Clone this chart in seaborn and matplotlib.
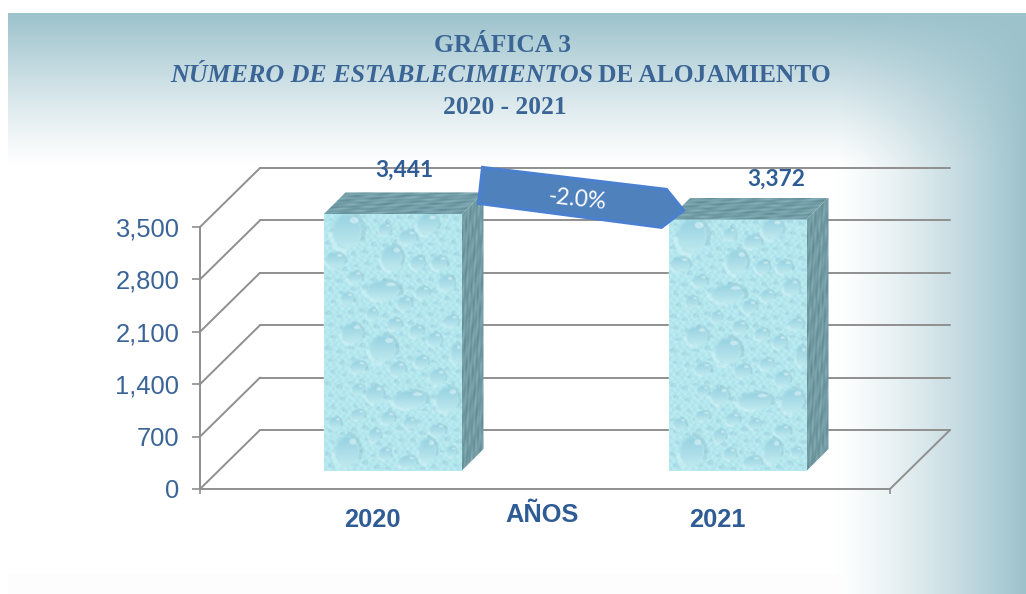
import numpy as np
import seaborn as sns
import matplotlib.pyplot as plt
from matplotlib.patches import Polygon
from matplotlib.colors import to_rgb

# datos de la grafica
anios = ["2020", "2021"]
establecimientos = [3441, 3372]
ticks_y = [0, 700, 1400, 2100, 2800, 3500]
etiqueta_x = "AÑOS"
variacion = "-2.0%"

W, H = 1026, 594
AZUL = "#2f5c94"
AZUL_EJE = "#3a6497"
GRIS = "#8f8f8f"
FONDO = np.array(to_rgb("#9cc2cc"))

# gotas de la textura: centro y radios en pixeles de la barra
GOTAS = [(23, 17, 17, 20), (104, 10, 12, 12), (61, 15, 7, 7), (84, 23, 10, 8), (11, 45, 11, 8),
         (68, 43, 12, 14), (116, 48, 9, 8), (94, 48, 8, 8), (31, 62, 8, 7), (59, 75, 19, 11),
         (123, 68, 9, 9), (99, 77, 8, 7), (23, 83, 7, 7), (81, 88, 8, 8), (48, 98, 6, 7),
         (71, 108, 8, 7), (128, 105, 8, 7), (28, 117, 12, 11), (93, 115, 8, 7), (59, 132, 15, 15),
         (111, 123, 8, 8), (133, 137, 6, 12), (34, 150, 9, 7), (98, 145, 8, 7), (74, 152, 9, 8),
         (114, 160, 9, 9), (51, 177, 10, 10), (86, 182, 19, 10), (124, 182, 13, 14), (34, 172, 7, 6),
         (34, 197, 8, 6), (64, 200, 8, 7), (86, 205, 7, 6), (11, 205, 7, 7), (114, 212, 9, 7),
         (23, 233, 14, 18), (51, 217, 7, 8), (61, 235, 7, 7), (104, 232, 10, 14), (84, 243, 10, 7),
         (128, 233, 6, 6)]


def textura_gotas():
    s = 3
    alto, ancho = 252 * s, 139 * s
    yy, xx = np.mgrid[0:alto, 0:ancho] / s
    img = np.ones((alto, ancho, 3)) * np.array(to_rgb("#b5e7ee"))
    img += (np.sin(xx * 0.9 + np.sin(yy * 0.5)) * np.sin(yy * 0.8) * 0.025)[..., None]
    chicas = []
    for i in range(12):
        for j in range(22):
            chicas.append((6 + i * 11.5 + 3 * np.sin(j * 2.1), 6 + j * 11.5 + 3 * np.sin(i * 1.7),
                           2.0 + np.abs(np.sin(i * 3 + j)) * 1.4, 2.0 + np.abs(np.sin(i + j * 5)) * 1.4))
    for cx, cy, rx, ry in chicas + GOTAS:
        d = np.sqrt(((xx - cx) / rx) ** 2 + ((yy - cy) / ry) ** 2)
        t = np.clip((yy - cy) / ry * 0.5 + 0.5, 0, 1)[..., None]
        color = (1 - t) * np.array(to_rgb("#92cfdf")) + t * np.array(to_rgb("#c4ecf1"))
        m = np.clip((1 - d) / 0.3, 0, 1)[..., None]
        img = img * (1 - m) + color * m
        # borde suave arriba a la derecha y luz pequena
        b = (np.abs(d - 1) < 0.12) & (xx > cx) & (yy < cy + ry * 0.4)
        img[b] = img[b] * 0.7 + np.array(to_rgb("#7fb3c2")) * 0.3
        b = (np.abs(d - 1) < 0.14) & (xx < cx) & (yy > cy)
        img[b] = img[b] * 0.6 + np.array([0.86, 0.97, 0.98]) * 0.4
        l = ((xx - cx - 0.42 * rx) / (0.26 * rx)) ** 2 + ((yy - cy + 0.55 * ry) / (0.16 * ry)) ** 2 < 1
        img[l] = img[l] * 0.6 + np.array([1, 1, 1]) * 0.4
    return np.clip(img, 0, 1)


def textura_lado(alto, ancho, horizontal):
    yy, xx = np.mgrid[0:alto, 0:ancho].astype(float)
    if horizontal:
        xx, yy = yy, xx
    v = np.sin(xx * 1.1 + 2 * np.sin(yy * 0.09)) + np.sin(xx * 1.9 + yy * 0.13) + np.sin(yy * 0.27 + xx * 0.6)
    base = np.array(to_rgb("#729ba4"))
    return np.clip(base + (v * 0.022)[..., None], 0, 1)


def rect_px(izq, der, y_abajo, y_arriba):
    return [izq / W, 1 - y_abajo / H, (der - izq) / W, (y_abajo - y_arriba) / H]


sns.set_theme(style="white")
fig = plt.figure(figsize=(W / 100, H / 100), dpi=100, facecolor="white")

# fondo con degradado
ax_fondo = fig.add_axes([0, 0, 1, 1], zorder=0)
yy, xx = np.mgrid[0:H, 0:W].astype(float)
arriba = np.clip((165 - yy) / 152, 0, 1) ** 1.15
derecha = np.clip((xx - 835) / 191, 0, 1) ** 1.25
t = 1 - (1 - arriba) * (1 - derecha)
t = np.maximum(t, np.where(yy > 572, 0.02, 0))
fondo = 1 - t[..., None] * (1 - FONDO)
fondo[(xx < 8) | (yy < 13)] = 1
ax_fondo.imshow(fondo, extent=(0, W, 0, H), aspect="auto", origin="upper")
ax_fondo.set_xlim(0, W)
ax_fondo.set_ylim(0, H)
ax_fondo.axis("off")

# plano frontal: ejes y escalas
ax = fig.add_axes(rect_px(200, 890, 489, 227), zorder=1)
ax.patch.set_visible(False)
sns.barplot(x=anios, y=[0, 0], ax=ax)
ax.set_xlim(-0.5, 1.5)
ax.set_ylim(0, 3500)
ax.set_yticks(ticks_y)
ax.set_yticklabels([f"{v:,}" for v in ticks_y], fontfamily="Liberation Sans", fontsize=18.4, color=AZUL_EJE)
ax.tick_params(axis="y", left=True, length=6, width=1.2, color=GRIS, pad=9)
ax.tick_params(axis="x", bottom=False, pad=8)
ax.set_xticks([-0.5, 1.5], minor=True)
ax.tick_params(axis="x", which="minor", bottom=True, length=3.5, width=1.2, color=GRIS)
for etq in ax.get_xticklabels():
    etq.set(fontfamily="Liberation Sans", fontweight="bold", fontsize=18.3, color=AZUL)
ax.set_xlabel(etiqueta_x, fontfamily="Liberation Sans", fontweight="bold", fontsize=18.3, color=AZUL)
ax.xaxis.set_label_coords(0.495, -0.055)
ax.set_ylabel("")
sns.despine(ax=ax)
ax.spines["left"].set(color=GRIS, linewidth=1.4)
ax.spines["bottom"].set(color=GRIS, linewidth=1.4)

# paredes del fondo y piso, a partir de la escala
prof_x, prof_y = 60, 59
x_ini = ax.transData.transform((-0.5, 0))[0]
x_fin = ax.transData.transform((1.5, 0))[0]
for v in ticks_y:
    py = ax.transData.transform((0, v))[1]
    ax_fondo.plot([x_ini, x_ini + prof_x], [py, py + prof_y], color=GRIS, lw=1.4, solid_capstyle="round")
    ax_fondo.plot([x_ini + prof_x, x_fin + prof_x], [py + prof_y, py + prof_y], color=GRIS, lw=1.4)
py0 = ax.transData.transform((0, 0))[1]
ax_fondo.plot([x_fin, x_fin + prof_x], [py0, py0 + prof_y], color=GRIS, lw=1.4)

# barras, algo adentro del plano frontal
ax_barras = fig.add_axes(rect_px(220, 910, 471, 210), zorder=2)
ax_barras.patch.set_visible(False)
sns.barplot(x=anios, y=establecimientos, color="#b3e6ee", saturation=1, width=0.4, ax=ax_barras)
ax_barras.set_xlim(-0.5, 1.5)
ax_barras.set_ylim(0, 3500)
ax_barras.axis("off")
fig.canvas.draw()

desplaza = [(12, 44), (39, 40)]
for barra, v, off in zip(ax_barras.patches, establecimientos, desplaza):
    ax_barras.annotate(f"{v:,}", (barra.get_x() + barra.get_width() / 2, v), xytext=(off[0] * 0.72, off[1] * 0.72),
                       textcoords="offset points", ha="center", va="center", annotation_clip=False,
                       fontfamily="Lato", fontweight="bold", fontsize=16.4, color=AZUL)

# capa superior en pixeles: caras 3D, flecha y titulo
ax_top = fig.add_axes([0, 0, 1, 1], zorder=3)
ax_top.patch.set_visible(False)
ax_top.axis("off")
tex = textura_gotas()
prof = 22
extremos = []
for barra in ax_barras.patches:
    e = barra.get_window_extent()
    x0, x1, y0, y1 = e.x0, e.x1, e.y0, e.y1
    extremos.append((x0, x1, y0, y1))
    ax_top.imshow(tex, extent=(x0, x1, y0, y1), aspect="auto", origin="upper", interpolation="bilinear")
    im = ax_top.imshow(textura_lado(int(y1 - y0 + prof), prof, False), extent=(x1, x1 + prof, y0, y1 + prof),
                       aspect="auto", origin="upper", interpolation="bilinear")
    im.set_clip_path(Polygon([(x1, y0), (x1 + prof, y0 + prof), (x1 + prof, y1 + prof), (x1, y1)], transform=ax_top.transData))
    im = ax_top.imshow(textura_lado(prof, int(x1 - x0 + prof), True) * 1.02, extent=(x0, x1 + prof, y1, y1 + prof),
                       aspect="auto", origin="upper", interpolation="bilinear")
    im.set_clip_path(Polygon([(x0, y1), (x1, y1), (x1 + prof, y1 + prof), (x0 + prof, y1 + prof)], transform=ax_top.transData))

# flecha de variacion, anclada a la primera barra
bx, by = extremos[0][1], extremos[0][3]
forma = [(21, 47), (205, 25), (222, 4), (200, -13), (17, 11)]
ax_top.add_patch(Polygon([(bx + a, by + b) for a, b in forma], closed=True, facecolor="#4f81bd",
                         edgecolor="#4a80cf", linewidth=2.2, joinstyle="miter", zorder=5))
ax_top.text(bx + 116, by + 15, variacion, color="white", fontfamily="Lato", fontsize=16.5, rotation=-6,
            ha="center", va="center", zorder=6)

ax_top.set_xlim(0, W)
ax_top.set_ylim(0, H)

fuente = dict(fontfamily="Liberation Serif", fontweight="bold", color="#3a6595", va="center")
ax_top.text(503, H - 46, "GRÁFICA 3", ha="center", fontsize=18.4, **fuente)
ax_top.text(593, H - 75, "NÚMERO DE ESTABLECIMIENTOS", ha="right", fontstyle="italic", fontsize=18.7, **fuente)
ax_top.text(598, H - 75, "DE ALOJAMIENTO", ha="left", fontsize=18.4, **fuente)
ax_top.text(505, H - 108, "2020 - 2021", ha="center", fontsize=18.4, **fuente)

fig.savefig("out.png", dpi=100)
